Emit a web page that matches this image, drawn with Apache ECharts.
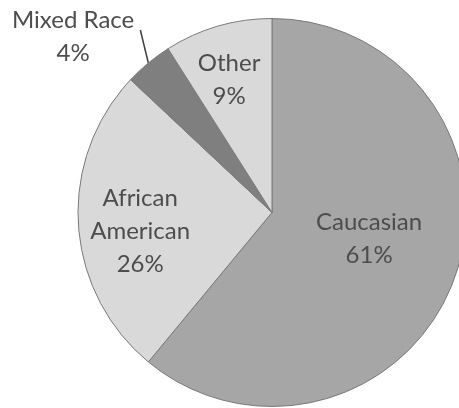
<!DOCTYPE html>
<html><head><meta charset="utf-8">
<script src="https://cdn.jsdelivr.net/npm/echarts@6/dist/echarts.min.js"></script>
<style>html,body{margin:0;padding:0;background:#fff}#c{width:459px;height:408px}</style>
</head><body><div id="c"></div>
<script>
var categories = ['Caucasian', 'African American', 'Mixed Race', 'Other'];
var values = [61, 26, 4, 9];
var colors = ['#a6a6a6', '#d9d9d9', '#7f7f7f', '#d9d9d9'];
var labelTexts = ['Caucasian\n61%', 'African\nAmerican\n26%', '{c|Mixed Race}\n{c|4%}', 'Other\n9%'];
var insideOffsets = [[3, -8], [-32, 12], null, [-15, -37]];

var chart = echarts.init(document.getElementById('c'), null, {renderer: 'canvas'});
var data = categories.map(function (n, i) {
  var item = {
    name: n, value: values[i],
    itemStyle: {color: colors[i]},
    label: {formatter: labelTexts[i]}
  };
  if (i === 2) {
    item.label.position = 'outside';
    item.label.overflow = 'none';
    item.label.rich = {c: {align: 'center', color: '#4d4d4d', fontFamily: 'Lato', fontSize: 24, lineHeight: 33}};
    item.labelLine = {show: true, length: 30, length2: 0, lineStyle: {color: '#404040', width: 1.5}};
  } else {
    item.label.position = 'inside';
    item.label.offset = insideOffsets[i];
    item.labelLine = {show: false};
  }
  return item;
});
chart.setOption({
  animation: false,
  series: [{
    type: 'pie',
    center: [272, 212.5],
    radius: 194,
    startAngle: 90,
    clockwise: true,
    data: data,
    itemStyle: {borderColor: '#7a7a7a', borderWidth: 1},
    label: {
      color: '#4d4d4d',
      fontFamily: 'Lato',
      fontSize: 24,
      lineHeight: 33,
      align: 'center'
    },
    labelLayout: function (params) {
      if (params.dataIndex === 2) {
        var res = {dx: 6, dy: -3};
        var pts = params.labelLinePoints;
        if (pts && pts.length) {
          var p0 = pts[0];
          var end = [p0[0] - 8, p0[1] - 33];
          res.labelLinePoints = [p0, end, end];
        }
        return res;
      }
    },
    emphasis: {disabled: true}
  }]
});
</script></body></html>
